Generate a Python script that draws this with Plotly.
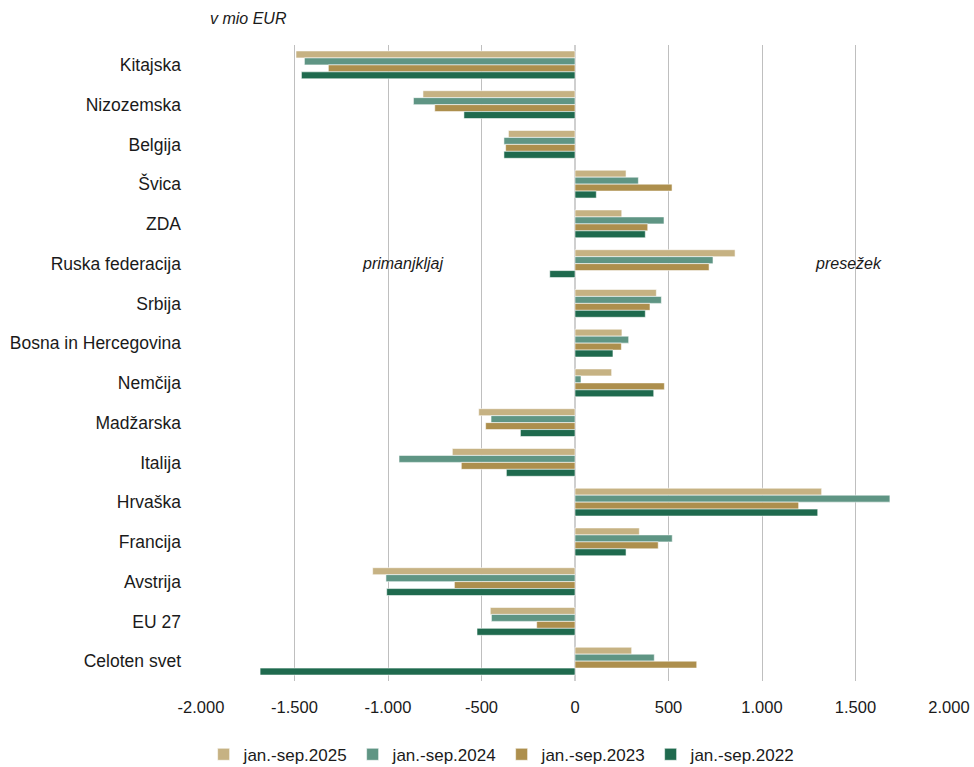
import plotly.graph_objects as go

# Trade balance by partner country, in million EUR
countries = [
    "Kitajska", "Nizozemska", "Belgija", "Švica", "ZDA", "Ruska federacija",
    "Srbija", "Bosna in Hercegovina", "Nemčija", "Madžarska", "Italija",
    "Hrvaška", "Francija", "Avstrija", "EU 27", "Celoten svet",
]

bal_2025 = [-1492, -813, -356, 273, 250, 856, 435, 251, 196, -515, -656, 1319, 344, -1082, -453, 303]
bal_2024 = [-1447, -864, -380, 339, 476, 738, 462, 287, 32, -449, -941, 1684, 520, -1011, -447, 424]
bal_2023 = [-1319, -750, -371, 519, 389, 717, 401, 248, 478, -478, -608, 1196, 445, -645, -205, 651]
bal_2022 = [-1463, -594, -380, 114, 376, -135, 376, 203, 421, -292, -367, 1298, 273, -1007, -524, -1684]

series_names = ["jan.-sep.2025", "jan.-sep.2024", "jan.-sep.2023", "jan.-sep.2022"]
series_values = [bal_2025, bal_2024, bal_2023, bal_2022]
series_colors = ["#C6B283", "#5F9584", "#AD8F4D", "#1F6A4E"]

tick_vals = [-2000, -1500, -1000, -500, 0, 500, 1000, 1500, 2000]
tick_labels = ["-2.000", "-1.500", "-1.000", "-500", "0", "500", "1.000", "1.500", "2.000"]

FONT = "Liberation Sans, Arial, sans-serif"
TEXT = "#1a1a1a"

fig = go.Figure()
for name, vals, color in zip(series_names, series_values, series_colors):
    fig.add_trace(go.Bar(
        y=countries,
        x=vals,
        name=name,
        orientation="h",
        marker=dict(color=color, line=dict(color="rgba(255,255,255,0.7)", width=0.8)),
    ))

fig.add_annotation(x=-920, y="Ruska federacija", text="<i>primanjkljaj</i>",
                   showarrow=False, font=dict(family=FONT, size=16, color=TEXT))
fig.add_annotation(x=1462, y="Ruska federacija", text="<i>presežek</i>",
                   showarrow=False, font=dict(family=FONT, size=16, color=TEXT))
fig.add_annotation(xref="paper", yref="paper", x=0.009, y=1.042, xanchor="left",
                   yanchor="middle", text="<i>v mio EUR</i>", showarrow=False,
                   font=dict(family=FONT, size=16, color=TEXT))

fig.update_layout(
    width=974,
    height=767,
    margin=dict(l=201, r=25, t=45, b=86, autoexpand=False),
    paper_bgcolor="white",
    plot_bgcolor="white",
    barmode="group",
    bargap=0.3,
    bargroupgap=0,
    font=dict(family=FONT, size=17, color=TEXT),
    separators=",.",
    showlegend=True,
    legend=dict(
        orientation="h",
        xref="container", yref="container",
        x=0.515, xanchor="center",
        y=0.016, yanchor="middle",
        font=dict(family=FONT, size=17, color=TEXT),
        traceorder="normal",
        itemwidth=30,
        entrywidth=104,
    ),
    xaxis=dict(
        range=[-2000, 2000],
        tickvals=tick_vals,
        ticktext=tick_labels,
        showgrid=True,
        gridcolor="#BFBFBF",
        gridwidth=1.3,
        zeroline=True,
        zerolinecolor="#CFCFCF",
        zerolinewidth=2,
        showline=False,
        ticks="",
        ticklabelstandoff=14,
        ticklabeloverflow="allow",
        automargin=False,
        tickfont=dict(family=FONT, size=16.5, color=TEXT),
    ),
    yaxis=dict(
        autorange="reversed",
        showgrid=False,
        zeroline=False,
        showline=False,
        ticks="",
        ticklabelstandoff=19,
        automargin=False,
        tickfont=dict(family=FONT, size=17.5, color=TEXT),
    ),
)

fig.write_html("out.html")
